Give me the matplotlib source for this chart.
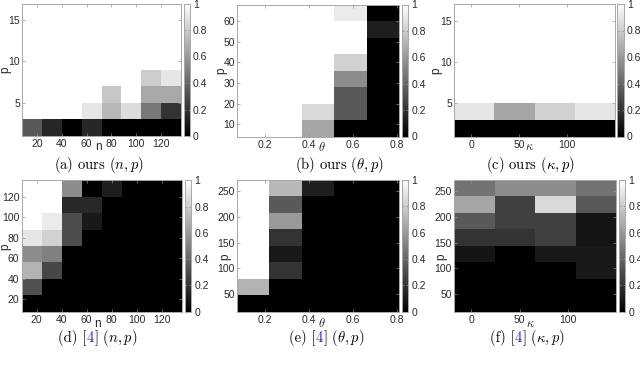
import numpy as np
import matplotlib
matplotlib.use('Agg')
import matplotlib.pyplot as plt

plt.rcParams['mathtext.fontset'] = 'cm'
plt.rcParams['font.family'] = ['Liberation Sans', 'DejaVu Sans']

# ---------------- data ----------------
n_vals = [16, 32, 48, 64, 80, 96, 112, 128]
p_small = [2, 4, 6, 8, 10, 12, 14, 16]
theta_vals = [0.147, 0.294, 0.441, 0.588, 0.735]
p_theta_ours = [8, 16, 24, 32, 40, 48, 56, 64]
kappa_vals = [3, 45, 87, 129]
p_n_ref = [16, 32, 48, 64, 80, 96, 112, 128]
p_large = [32, 64, 96, 128, 160, 192, 224, 256]

# rows = p (bottom -> top), columns = x variable (left -> right)
ours_np = [
    [0.35, 0.15, 0.00, 0.15, 0.00, 0.00, 0.00, 0.00],
    [1.00, 1.00, 1.00, 0.90, 0.72, 0.86, 0.47, 0.20],
    [1.00, 1.00, 1.00, 1.00, 0.78, 1.00, 0.66, 0.66],
    [1.00, 1.00, 1.00, 1.00, 1.00, 1.00, 0.80, 0.90],
    [1.00, 1.00, 1.00, 1.00, 1.00, 1.00, 1.00, 1.00],
    [1.00, 1.00, 1.00, 1.00, 1.00, 1.00, 1.00, 1.00],
    [1.00, 1.00, 1.00, 1.00, 1.00, 1.00, 1.00, 1.00],
    [1.00, 1.00, 1.00, 1.00, 1.00, 1.00, 1.00, 1.00],
]
ours_theta = [
    [1.00, 1.00, 0.65, 0.00, 0.00],
    [1.00, 1.00, 0.85, 0.35, 0.00],
    [1.00, 1.00, 1.00, 0.35, 0.00],
    [1.00, 1.00, 1.00, 0.55, 0.00],
    [1.00, 1.00, 1.00, 0.82, 0.00],
    [1.00, 1.00, 1.00, 1.00, 0.00],
    [1.00, 1.00, 1.00, 1.00, 0.12],
    [1.00, 1.00, 1.00, 0.92, 0.00],
]
ours_kappa = [
    [0.00, 0.00, 0.00, 0.00],
    [0.90, 0.65, 0.82, 0.90],
    [1.00, 1.00, 1.00, 1.00],
    [1.00, 1.00, 1.00, 1.00],
    [1.00, 1.00, 1.00, 1.00],
    [1.00, 1.00, 1.00, 1.00],
    [1.00, 1.00, 1.00, 1.00],
    [1.00, 1.00, 1.00, 1.00],
]
ref_np = [
    [0.00, 0.00, 0.00, 0.00, 0.00, 0.00, 0.00, 0.00],
    [0.32, 0.00, 0.00, 0.00, 0.00, 0.00, 0.00, 0.00],
    [0.70, 0.28, 0.00, 0.00, 0.00, 0.00, 0.00, 0.00],
    [0.55, 0.50, 0.00, 0.00, 0.00, 0.00, 0.00, 0.00],
    [0.90, 0.82, 0.30, 0.00, 0.00, 0.00, 0.00, 0.00],
    [1.00, 0.92, 0.30, 0.10, 0.00, 0.00, 0.00, 0.00],
    [1.00, 1.00, 0.16, 0.16, 0.00, 0.00, 0.00, 0.00],
    [1.00, 1.00, 0.55, 0.00, 0.12, 0.00, 0.00, 0.00],
]
ref_theta = [
    [0.00, 0.00, 0.00, 0.00, 0.00],
    [0.70, 0.00, 0.00, 0.00, 0.00],
    [1.00, 0.20, 0.00, 0.00, 0.00],
    [1.00, 0.10, 0.00, 0.00, 0.00],
    [1.00, 0.20, 0.00, 0.00, 0.00],
    [1.00, 0.60, 0.00, 0.00, 0.00],
    [1.00, 0.35, 0.00, 0.00, 0.00],
    [1.00, 0.72, 0.12, 0.00, 0.00],
]
ref_kappa = [
    [0.00, 0.00, 0.00, 0.00],
    [0.00, 0.00, 0.00, 0.00],
    [0.00, 0.00, 0.00, 0.10],
    [0.08, 0.00, 0.10, 0.10],
    [0.20, 0.20, 0.25, 0.08],
    [0.35, 0.25, 0.25, 0.08],
    [0.65, 0.25, 0.85, 0.35],
    [0.45, 0.55, 0.55, 0.45],
]

x_ticks_n = [20, 40, 60, 80, 100, 120]
x_ticks_theta = [0.2, 0.4, 0.6, 0.8]
x_ticks_kappa = [0, 50, 100]
y_ticks_small = [5, 10, 15]
y_ticks_theta_ours = [10, 20, 30, 40, 50, 60]
y_ticks_n_ref = [20, 40, 60, 80, 100, 120]
y_ticks_large = [50, 100, 150, 200, 250]
cbar_ticks = [0, 0.2, 0.4, 0.6, 0.8, 1]
cbar_labels = ['0', '0.2', '0.4', '0.6', '0.8', '1']

# ---------------- layout ----------------
W, H = 640, 366
fig = plt.figure(figsize=(W / 100, H / 100), dpi=100)

def box(l, r, t, b):
    return [l / W, 1 - b / H, (r - l) / W, (b - t) / H]

FRAME = '#a8a8a8'
TXT = '#2a2a2a'
TFS = 7.5

def edges(c):
    c = np.asarray(c, float)
    d = np.diff(c)
    mids = c[:-1] + d / 2
    return np.concatenate([[c[0] - d[0] / 2], mids, [c[-1] + d[-1] / 2]])

def panel(ax_box, cb_box, xv, yv, Z, xt, yt, xlab, xlab_pos, ylab_pos):
    ax = fig.add_axes(box(*ax_box))
    xe, ye = edges(xv), edges(yv)
    m = ax.pcolormesh(xe, ye, np.asarray(Z), cmap='gray', vmin=0, vmax=1,
                      shading='flat', edgecolors='none')
    ax.set_xlim(xe[0], xe[-1])
    ax.set_ylim(ye[0], ye[-1])
    ax.set_xticks(xt)
    ax.set_xticklabels([('%g' % v) for v in xt])
    ax.set_yticks(yt)
    ax.set_yticklabels([('%g' % v) for v in yt])
    ax.tick_params(direction='in', top=True, right=True, length=2, width=0.5,
                   color='#909090', labelsize=TFS, labelcolor=TXT)
    ax.tick_params(axis='x', pad=2.5)
    ax.tick_params(axis='y', pad=1.5)
    for s in ax.spines.values():
        s.set_color(FRAME)
        s.set_linewidth(0.7)
    ax.text(xlab_pos[0], xlab_pos[1], xlab, transform=ax.transAxes,
            ha='center', va='center', fontsize=8.5 if xlab == 'n' else 9,
            color=TXT)
    ax.text(ylab_pos[0], ylab_pos[1], 'p', transform=ax.transAxes,
            ha='center', va='center', rotation=90, fontsize=8.5, color=TXT)
    cax = fig.add_axes(box(*cb_box))
    cb = fig.colorbar(m, cax=cax, ticks=cbar_ticks)
    cb.ax.set_yticklabels(cbar_labels)
    cb.outline.set_edgecolor(FRAME)
    cb.outline.set_linewidth(0.7)
    cax.tick_params(direction='in', length=1.5, width=0.5, color='#909090',
                    labelsize=TFS, labelcolor=TXT, pad=2.5, left=True)
    return ax

panel((22, 181, 3.5, 136), (183.5, 189.5, 3.5, 136), n_vals, p_small, ours_np,
      x_ticks_n, y_ticks_small, 'n', (0.478, -0.08), (-0.105, 0.5))
panel((237, 399, 4.5, 136.5), (401.5, 408, 4.5, 136.5), theta_vals, p_theta_ours,
      ours_theta, x_ticks_theta, y_ticks_theta_ours, r'$\theta$',
      (0.523, -0.08), (-0.094, 0.5))
panel((454, 615, 4, 136.5), (617, 623.5, 4, 136.5), kappa_vals, p_small,
      ours_kappa, x_ticks_kappa, y_ticks_small, r'$\kappa$',
      (0.47, -0.077), (-0.107, 0.5))
panel((21.5, 181.5, 180.5, 311.5), (185, 191, 180.5, 311.5), n_vals, p_n_ref,
      ref_np, x_ticks_n, y_ticks_n_ref, 'n', (0.476, -0.095), (-0.103, 0.495))
panel((237, 399, 180, 311.5), (401.5, 408, 180, 311.5), theta_vals, p_large,
      ref_theta, x_ticks_theta, y_ticks_large, r'$\theta$',
      (0.523, -0.095), (-0.074, 0.42))
panel((454, 616, 180, 311.5), (619, 625, 180, 311.5), kappa_vals, p_large,
      ref_kappa, x_ticks_kappa, y_ticks_large, r'$\kappa$',
      (0.47, -0.095), (-0.076, 0.42))

# ---------------- captions ----------------
CFS = 10.5
renderer = fig.canvas.get_renderer()

def caption(xc, yc, parts):
    texts, widths = [], []
    for s, c in parts:
        t = fig.text(0, 1 - yc / H, s, color=c, fontsize=CFS, family='cmr10',
                     ha='left', va='center')
        widths.append(t.get_window_extent(renderer).width)
        texts.append(t)
    x = xc - sum(widths) / 2
    for t, w in zip(texts, widths):
        t.set_x(x / W)
        x += w

BLUE = '#1f1fff'
caption(99, 165, [(r'(a) ours $(n,p)$', 'black')])
caption(339, 165, [(r'(b) ours $(\theta,p)$', 'black')])
caption(530, 165, [(r'(c) ours $(\kappa,p)$', 'black')])
caption(98, 338, [('(d) [', 'black'), ('4', BLUE), (r'] $(n,p)$', 'black')])
caption(327, 338, [('(e) [', 'black'), ('4', BLUE), (r'] $(\theta,p)$', 'black')])
caption(528, 338, [('(f) [', 'black'), ('4', BLUE), (r'] $(\kappa,p)$', 'black')])

fig.savefig('out.png', dpi=100)
